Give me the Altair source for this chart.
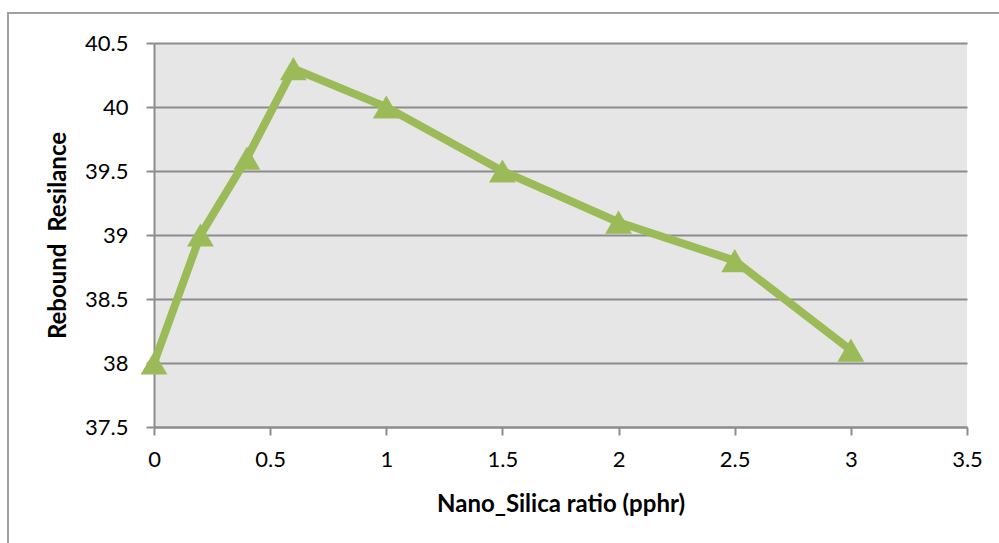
import altair as alt
import pandas as pd

# Nano-silica loading (pphr) and measured rebound resilience
silica_pphr = [0, 0.2, 0.4, 0.6, 1.0, 1.5, 2.0, 2.5, 3.0]
resilience = [38.0, 39.0, 39.6, 40.3, 40.0, 39.5, 39.1, 38.8, 38.1]

x_ticks = [0, 0.5, 1, 1.5, 2, 2.5, 3, 3.5]
y_ticks = [37.5, 38, 38.5, 39, 39.5, 40, 40.5]

df = pd.DataFrame({"ratio": silica_pphr, "resilience": resilience})

GREEN = "#9bbb59"
GRID = "#8c8c8c"
FONT = "Lato"

x_enc = alt.X(
    "ratio:Q",
    scale=alt.Scale(domain=[0, 3.5], nice=False, zero=False),
    axis=alt.Axis(
        values=x_ticks,
        format="~g",
        title="Nano_Silica ratio (pphr)",
        titleFont=FONT,
        titleFontSize=24,
        titleFontWeight="bold",
        titleColor="black",
        titlePadding=22,
        labelFont=FONT,
        labelFontSize=22,
        labelColor="black",
        labelPadding=14,
        labelFlush=False,
        tickSize=8,
        tickColor=GRID,
        tickWidth=2,
        domainColor=GRID,
        domainWidth=2,
        grid=False,
    ),
)
y_enc = alt.Y(
    "resilience:Q",
    scale=alt.Scale(domain=[37.5, 40.5], nice=False, zero=False),
    axis=alt.Axis(
        values=y_ticks,
        format="~g",
        title="Rebound\u00a0\u00a0Resilance",
        titleFont=FONT,
        titleFontSize=24,
        titleFontWeight="bold",
        titleColor="black",
        titlePadding=14,
        labelFont=FONT,
        labelFontSize=22,
        labelColor="black",
        labelPadding=18,
        labelFlush=False,
        tickSize=8,
        tickColor=GRID,
        tickWidth=2,
        domainColor=GRID,
        domainWidth=2,
        grid=True,
        gridColor=GRID,
        gridWidth=2,
    ),
)

line = alt.Chart(df).mark_line(color=GREEN, strokeWidth=8).encode(x=x_enc, y=y_enc)
points = alt.Chart(df).mark_point(
    shape="triangle-up", filled=True, color=GREEN, size=720, opacity=1
).encode(x="ratio:Q", y="resilience:Q")

# outer chart frame (left and top edges)
frame_left = alt.Chart(df).mark_rule(color="#a0a0a0", strokeWidth=2).encode(
    x=alt.value(-146), y=alt.value(-30), y2=alt.value(520)
)
frame_top = alt.Chart(df).mark_rule(color="#a0a0a0", strokeWidth=2).encode(
    x=alt.value(-147), x2=alt.value(860), y=alt.value(-30)
)

chart = (
    alt.layer(frame_left, frame_top, line, points)
    .properties(
        width=813,
        height=384,
        padding={"left": 154, "top": 43, "right": 32, "bottom": 116},
        autosize=alt.AutoSizeParams(type="none"),
        background="white",
    )
    .configure_view(fill="#e6e6e6", stroke=None)
)

chart.save("out.html", embed_options={"renderer": "svg", "actions": False})
